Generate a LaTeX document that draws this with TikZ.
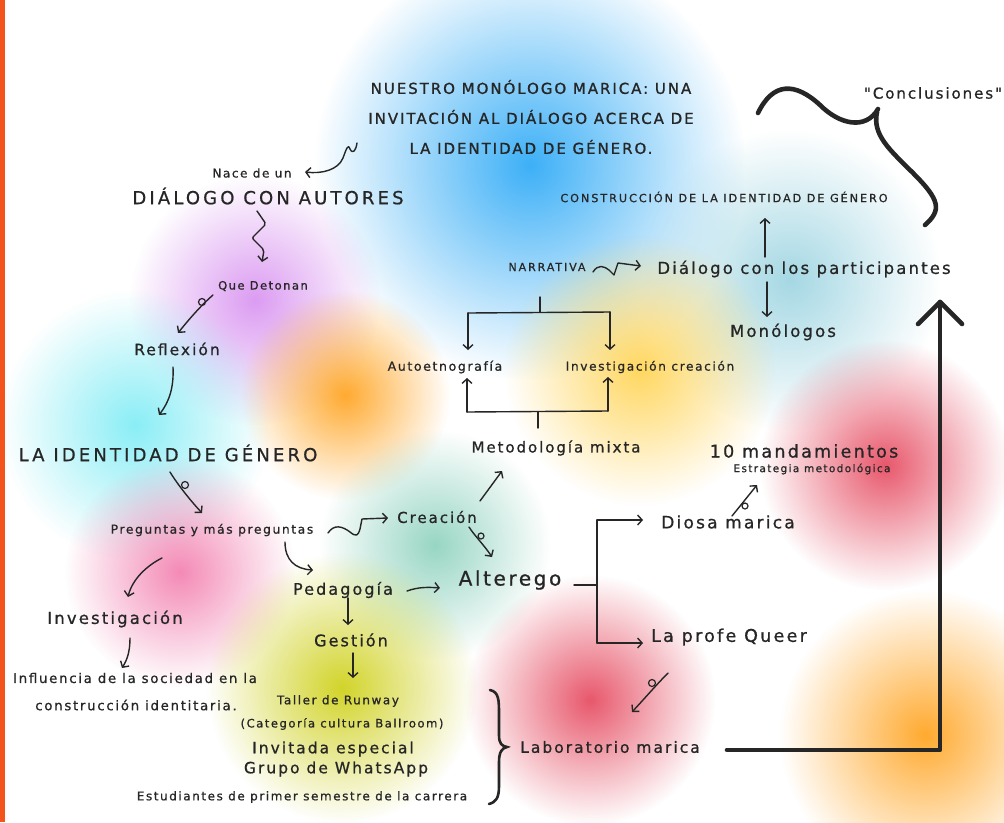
\documentclass[tikz,border=0pt]{standalone}
\usepackage{fontspec}
\setmainfont{DejaVu Sans}
\newfontfamily\handlow{DejaVu Sans}[LetterSpace=13,FakeBold=0.8]
\newfontfamily\handcap{DejaVu Sans}[LetterSpace=17.5,FakeBold=0.8]
\newfontfamily\handtit{DejaVu Sans}[LetterSpace=13,FakeBold=1.1]
\usetikzlibrary{arrows.meta,fadings}
\tikzfading[name=softblob, inner color=transparent!0, outer color=transparent!100]
\definecolor{ink}{HTML}{262626}
\definecolor{edgeor}{HTML}{F2541B}
\definecolor{bblue}{HTML}{3DB0F7}
\definecolor{bpale}{HTML}{A5D8E4}
\definecolor{bpurple}{HTML}{DC9CF2}
\definecolor{borange}{HTML}{FFAA30}
\definecolor{bcyan}{HTML}{8AEEF6}
\definecolor{bpink}{HTML}{F48AB6}
\definecolor{byellow}{HTML}{FFD760}
\definecolor{bteal}{HTML}{98D6C4}
\definecolor{bolive}{HTML}{D2D42A}
\definecolor{bred}{HTML}{E8586C}
\tikzset{
  blob/.style={fill=#1, path fading=softblob},
  txt/.style={text=ink, inner sep=0pt, anchor=center},
  lo/.style={txt, font=\handlow\fontsize{#1}{#1}\selectfont},
  ca/.style={txt, font=\handcap\fontsize{#1}{#1}\selectfont},
  ln/.style={draw=ink, line width=1.4pt, line cap=round, line join=round},
  arr/.style={ln, -{Straight Barb[length=4.5pt,width=10pt]}},
  heavy/.style={draw=ink, line width=4.6pt, line cap=round, line join=round},
  loopc/.style={draw=ink, line width=1.2pt}
}
\begin{document}
\begin{tikzpicture}[x=1pt,y=-1pt]
\useasboundingbox (0,0) rectangle (1004,822);
\fill[white] (0,0) rectangle (1004,822);
% background blobs
\fill[blob=bblue] (530,165) circle (215pt);
\fill[blob=bpale] (790,280) circle (150pt);
\fill[blob=bpurple] (255,300) circle (125pt);
\fill[blob=borange] (345,395) circle (105pt);
\fill[blob=bcyan] (135,425) circle (135pt);
\fill[blob=byellow] (640,370) circle (135pt);
\fill[blob=bteal] (435,545) circle (115pt);
\fill[blob=bpink] (180,572) circle (115pt);
\fill[blob=bolive] (342,688) circle (135pt);
\fill[blob=bred] (885,465) circle (125pt);
\fill[blob=bred] (590,700) circle (125pt);
\fill[blob=borange] (925,735) circle (145pt);
\fill[edgeor] (0,0) rectangle (5,822);

% nodes
\node[txt, align=center, font=\handtit\fontsize{15}{30}\selectfont] (title) at (531,117)
  {NUESTRO MONÓLOGO MARICA: UNA\\INVITACIÓN AL DIÁLOGO ACERCA DE\\LA IDENTIDAD DE GÉNERO.};
\node[lo=12] (nace) at (252,173) {Nace de un};
\node[ca=18] (dialogo) at (268,196) {DIÁLOGO CON AUTORES};
\node[lo=11.5] (detonan) at (263,286) {Que Detonan};
\node[lo=15.5] (reflex) at (177,349) {Reflexión};
\node[ca=18] (identidad) at (168,453) {LA IDENTIDAD DE GÉNERO};
\node[lo=12.3] (preg) at (212,530) {Preguntas y más preguntas};
\node[lo=15] (creacion) at (437,517) {Creación};
\node[lo=15] (metodo) at (556,448) {Metodología mixta};
\node[lo=12.5] (auto) at (445,367) {Autoetnografía};
\node[lo=12.2] (invcre) at (650,367) {Investigación creación};
\node[ca=11] (narr) at (547,267) {NARRATIVA};
\node[lo=16.5] (dpart) at (804,269) {Diálogo con los participantes};
\node[ca=11.2] (constr) at (724,197) {CONSTRUCCIÓN DE LA IDENTIDAD DE GÉNERO};
\node[lo=16.5] (monol) at (783,332) {Monólogos};
\node[lo=15] (concl) at (933,93) {"Conclusiones"};
\node[lo=17.5] (mand) at (804,451) {10 mandamientos};
\node[lo=10.5] (estr) at (812,469) {Estrategia metodológica};
\node[lo=17] (diosa) at (728,522) {Diosa marica};
\node[lo=20] (alter) at (510,580) {Alterego};
\node[lo=17.5] (profe) at (729,637) {La profe Queer};
\node[lo=15.5] (lab) at (610,747) {Laboratorio marica};
\node[lo=16] (pedag) at (343,590) {Pedagogía};
\node[lo=16] (gestion) at (351,640) {Gestión};
\node[lo=16.5] (invest) at (115,619) {Investigación};
\node[lo=13.3] (infl1) at (135,678) {Influencia de la sociedad en la};
\node[lo=13.3] (infl2) at (136,705) {construcción identitaria.};
\node[lo=12] (taller) at (338,701) {Taller de Runway};
\node[lo=11.6] (categ) at (342,724) {(Categoría cultura Ballroom)};
\node[lo=15.5] (invit) at (333,749) {Invitada especial};
\node[lo=15.5] (grupo) at (336,769) {Grupo de WhatsApp};
\node[lo=12] (estud) at (302,797) {Estudiantes de primer semestre de la carrera};

% connectors
\coordinate (t0) at (357,143);
\coordinate (t1) at (305,172);
\draw[arr] (t0) .. controls (356,150) and (353,155) .. (350,149)
  .. controls (348,143) and (346,150) .. (343,158)
  .. controls (338,170) and (322,174) .. (t1);

\coordinate (d0) at (257,211);
\coordinate (d1) at (262,262);
\draw[arr, rounded corners=2pt] (d0) -- (266,224) -- (252,238) -- (264,250) -- (d1);

\coordinate (q0) at (213,295);
\coordinate (q1) at (178,333);
\draw[arr] (q0) .. controls (205,302) and (194,313) .. (q1);
\draw[loopc] (202,302) circle (3.5pt);

\coordinate (r0) at (173,367);
\coordinate (r1) at (159,415);
\draw[arr] (r0) .. controls (174,388) and (169,402) .. (r1);

\coordinate (i0) at (170,472);
\coordinate (i1) at (202,513);
\draw[arr] (i0) .. controls (178,485) and (190,500) .. (i1);
\draw[loopc] (185,485) circle (3.5pt);

\coordinate (p0) at (328,533);
\coordinate (p1) at (388,518);
\draw[arr] (p0) .. controls (334,524) and (342,526) .. (350,532)
  .. controls (356,537) and (358,536) .. (360,529) -- (362,519) -- (p1);

\coordinate (c0) at (480,501);
\coordinate (c1) at (502,471);
\draw[arr] (c0) -- (c1);

\coordinate (c2) at (469,527);
\coordinate (c3) at (492,557);
\draw[arr] (c2) .. controls (474,535) and (484,545) .. (c3);
\draw[loopc] (481,536) circle (3pt);

\coordinate (g0) at (285,542);
\coordinate (g1) at (313,570);
\draw[arr] (g0) .. controls (285,560) and (295,569) .. (g1);

\coordinate (h0) at (162,558);
\coordinate (h1) at (128,597);
\draw[arr] (h0) .. controls (146,566) and (132,580) .. (h1);

\coordinate (k0) at (407,591);
\coordinate (k1) at (440,588);
\draw[arr] (k0) .. controls (418,587) and (428,587) .. (k1);

\coordinate (l0) at (348,598);
\coordinate (l1) at (348,625);
\draw[arr] (l0) -- (l1);
\coordinate (m0) at (353,653);
\coordinate (m1) at (353,678);
\draw[arr] (m0) -- (m1);

\coordinate (n0) at (130,638);
\coordinate (n1) at (122,668);
\draw[arr] (n0) .. controls (130,652) and (127,660) .. (n1);

\coordinate (o0) at (593,272);
\coordinate (o1) at (641,266);
\draw[arr] (o0) .. controls (598,264) and (604,266) .. (609,270) -- (614,275) -- (618,263) -- (o1);

% brackets
\coordinate (b0) at (540,297);
\coordinate (b1) at (540,312);
\draw[ln] (b0) -- (b1);
\draw[ln] (468,313) -- (610,312);
\draw[arr] (468,313) -- (468,350);
\draw[arr] (610,312) -- (610,350);

\coordinate (e0) at (538,428);
\coordinate (e1) at (538,412);
\draw[ln] (e0) -- (e1);
\draw[ln] (467,412) -- (608,411);
\draw[arr] (467,412) -- (467,378);
\draw[arr] (608,411) -- (608,377);

\coordinate (u0) at (765,257);
\coordinate (u1) at (765,218);
\draw[arr] (u0) -- (u1);
\coordinate (v0) at (767,282);
\coordinate (v1) at (767,317);
\draw[arr] (v0) -- (v1);

% big brace near Conclusiones
\draw[heavy] (758,113) .. controls (773,82) and (795,82) .. (820,105)
  .. controls (840,125) and (866,130) .. (878,109);
\draw[heavy] (877,112) .. controls (872,135) and (890,150) .. (913,173)
  .. controls (940,200) and (942,210) .. (925,225);

% big L arrow
\coordinate (L0) at (727,750);
\coordinate (L1) at (940,750);
\coordinate (L2) at (940,302);
\draw[heavy] (L0) -- (L1) -- (L2);
\draw[heavy] (918,324) -- (L2) -- (962,324);

% Diosa -> Estrategia
\coordinate (w0) at (732,516);
\coordinate (w1) at (757,485);
\draw[arr] (w0) -- (w1);
\draw[loopc] (745,506) circle (3pt);

% Alterego fork
\coordinate (f0) at (574,585);
\coordinate (f1) at (597,585);
\draw[ln] (f0) -- (f1);
\draw[ln] (597,520) -- (597,643);
\draw[arr] (597,520) -- (643,520);
\draw[arr] (597,643) -- (643,643);

% profe -> laboratorio
\coordinate (z0) at (668,673);
\coordinate (z1) at (632,712);
\draw[arr] (z0) .. controls (658,683) and (645,698) .. (z1);
\draw[loopc] (652,683) circle (3.5pt);

% right brace
\draw[draw=ink, line width=2.6pt, line cap=round] (490,690) .. controls (499,692) and (499,700) .. (499,715) -- (499,735)
  .. controls (499,744) and (502,746) .. (507,747)
  .. controls (502,748) and (499,752) .. (499,762) -- (499,786)
  .. controls (499,798) and (496,802) .. (489,804);
\end{tikzpicture}
\end{document}
